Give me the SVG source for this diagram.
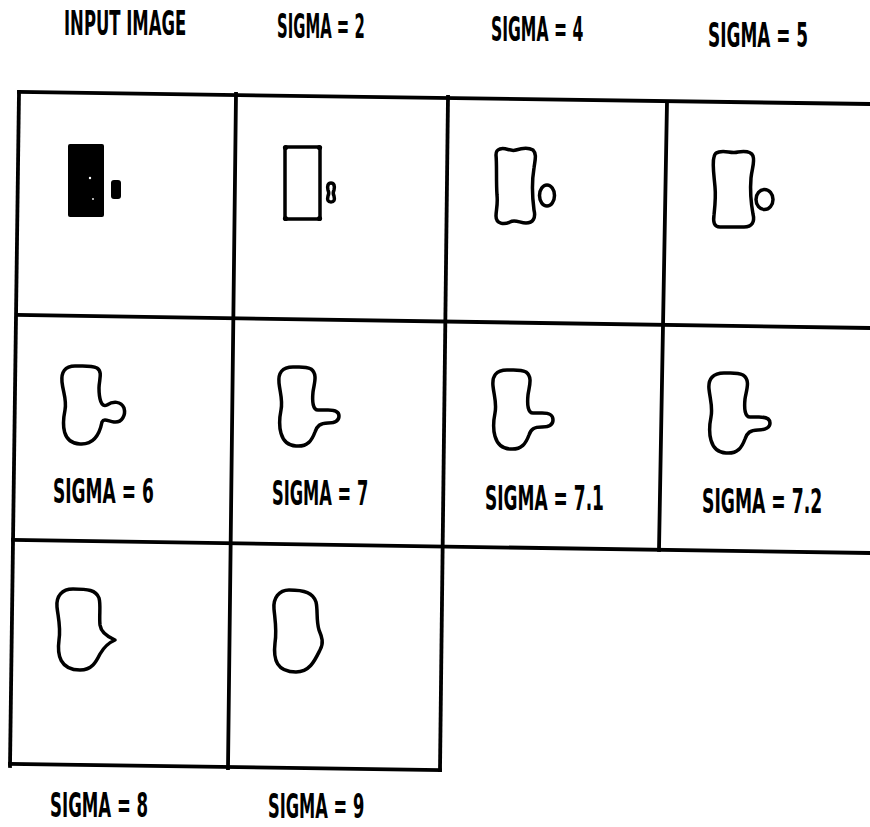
<svg xmlns="http://www.w3.org/2000/svg" width="870" height="827" viewBox="0 0 870 827">
<style>
.grid line{stroke:#000;stroke-width:3.8;stroke-linecap:square}
.c{fill:none;stroke:#000;stroke-width:3.5;stroke-linejoin:round}
.lbl{font-family:"Liberation Sans Narrow","DejaVu Sans Condensed","Liberation Sans",sans-serif;font-weight:bold;font-size:33px;fill:#000}
</style>
<rect width="870" height="827" fill="#fff"/>
<g id="grid" class="grid">
<line x1="19" y1="92" x2="870" y2="104"/>
<line x1="17" y1="315" x2="870" y2="328"/>
<line x1="13" y1="540" x2="870" y2="553"/>
<line x1="10" y1="764" x2="440" y2="770"/>
<line x1="19" y1="92" x2="10" y2="766"/>
<line x1="236" y1="94" x2="228" y2="768"/>
<line x1="448" y1="97" x2="440" y2="770"/>
<line x1="667" y1="102" x2="659" y2="550"/>
</g>
<g id="labels" class="lbl">
<text transform="matrix(0.65 0 0 1 64 35)" textLength="188" lengthAdjust="spacingAndGlyphs">INPUT IMAGE</text>
<text transform="matrix(0.65 0 0 1 277 38)" textLength="135" lengthAdjust="spacingAndGlyphs">SIGMA = 2</text>
<text transform="matrix(0.65 0 0 1 491 41)" textLength="142" lengthAdjust="spacingAndGlyphs">SIGMA = 4</text>
<text transform="matrix(0.65 0 0 1 708 47)" textLength="154" lengthAdjust="spacingAndGlyphs">SIGMA = 5</text>
<text transform="matrix(0.65 0 0 1 53 503)" textLength="155" lengthAdjust="spacingAndGlyphs">SIGMA = 6</text>
<text transform="matrix(0.65 0 0 1 272 505)" textLength="148" lengthAdjust="spacingAndGlyphs">SIGMA = 7</text>
<text transform="matrix(0.65 0 0 1 485 510)" textLength="183" lengthAdjust="spacingAndGlyphs">SIGMA = 7.1</text>
<text transform="matrix(0.65 0 0 1 702 513)" textLength="185" lengthAdjust="spacingAndGlyphs">SIGMA = 7.2</text>
<text transform="matrix(0.65 0 0 1 50 817)" textLength="151" lengthAdjust="spacingAndGlyphs">SIGMA = 8</text>
<text transform="matrix(0.65 0 0 1 268 818)" textLength="148" lengthAdjust="spacingAndGlyphs">SIGMA = 9</text>
</g>
<g id="panel-input">
<rect x="68" y="144" width="36" height="73" rx="2" fill="#000"/>
<circle cx="90" cy="178" r="1.2" fill="#fff"/>
<circle cx="93" cy="199" r="0.9" fill="#fff"/>
<rect x="111" y="180" width="10" height="19" rx="3" fill="#000"/>
</g>
<g id="panel-sigma2">
<rect x="285" y="147" width="35" height="72" rx="1.5" class="c" stroke-width="3.8"/>
<circle cx="285.5" cy="147.5" r="2.6" fill="#000"/>
<circle cx="319.5" cy="147.5" r="2.6" fill="#000"/>
<circle cx="285.5" cy="218.5" r="2.6" fill="#000"/>
<circle cx="319.5" cy="218.5" r="2.6" fill="#000"/>
<path class="c" d="M331,183 C328,183 327,186 328,190 C329,192 329,194 328,196 C327,200 328,202 331,202 C334,202 335,200 334,196 C333,194 333,192 334,190 C335,186 334,183 331,183 Z"/>
</g>
<g id="panel-sigma4">
<path class="c" d="M500,149 C506,147 510,152 516,150 C522,148 528,147 533,150 C537,154 535,160 534,168 C532,180 532,195 534,210 C536,218 533,223 526,223 C520,223 515,219 510,222 C504,225 496,224 496,216 C496,210 498,205 497,195 C496,180 497,165 496,155 C496,151 497,150 500,149 Z"/>
<ellipse class="c" cx="547" cy="195.5" rx="7.5" ry="10.5"/>
</g>
<g id="panel-sigma5">
<path class="c" d="M719,152 C726,150 731,154 738,152 C745,151 751,151 753,156 C755,162 752,168 751,178 C750,190 751,203 753,214 C755,222 752,227 744,227 C736,227 727,227 720,227 C714,227 713,222 714,215 C715,205 716,197 715,187 C714,175 712,163 714,157 C715,153 716,153 719,152 Z"/>
<ellipse class="c" cx="764.5" cy="199.5" rx="8.5" ry="10"/>
</g>
<g id="panel-sigma6">
<path class="c" d="M75,366 C65,366 61,372 62,382 C63,392 67,400 65,410 C62,425 62,443 80,444 C95,445 100,432 102,422 C104,418 108,421 114,422 C122,423 126,415 124,408 C121,401 113,401 107,405 C101,408 99,398 99,388 C99,380 103,372 97,368 C91,365 83,366 75,366 Z"/>
</g>
<g id="panel-sigma7">
<path class="c" d="M293,367 C282,367 278,373 279,383 C280,393 283,400 281,410 C278,425 279,445 296,446 C308,447 312,440 315,432 C317,426 320,423 328,423 C336,423 339,420 339,416 C339,412 336,410 328,410 L318,410 C313,410 312,402 313,392 C314,384 318,374 311,369 C305,366 300,367 293,367 Z"/>
</g>
<g id="panel-sigma7-1">
<path class="c" d="M507,370 C496,370 492,376 493,386 C494,396 497,403 495,413 C492,428 493,448 510,449 C522,450 526,443 529,435 C531,429 534,427 542,427 C550,427 553,424 553,420 C553,415 550,413 542,413 L533,413 C528,413 527,405 528,395 C529,387 533,377 526,372 C520,369 514,370 507,370 Z"/>
</g>
<g id="panel-sigma7-2">
<path class="c" d="M724,373 C713,373 708,379 709,389 C710,399 713,407 711,417 C708,432 709,452 726,453 C738,454 742,447 745,439 C747,433 750,430 758,430 C766,430 770,427 770,423 C770,419 767,417 759,417 L750,417 C745,417 744,409 745,399 C746,391 751,380 743,375 C737,372 731,373 724,373 Z"/>
</g>
<g id="panel-sigma8">
<path class="c" d="M73,589 C62,589 56,596 57,607 C58,617 61,627 59,640 C57,655 60,670 80,670 C92,670 96,662 100,654 C104,647 108,643 115,640 C108,637 101,633 100,625 C99,615 101,605 99,598 C96,590 88,589 73,589 Z"/>
</g>
<g id="panel-sigma9">
<path class="c" d="M289,590 C279,590 273,598 274,609 C275,620 277,630 275,643 C273,660 277,672 296,672 C310,672 315,660 320,650 C324,643 322,637 319,630 C316,620 318,610 316,602 C313,593 305,590 289,590 Z"/>
</g>
</svg>
